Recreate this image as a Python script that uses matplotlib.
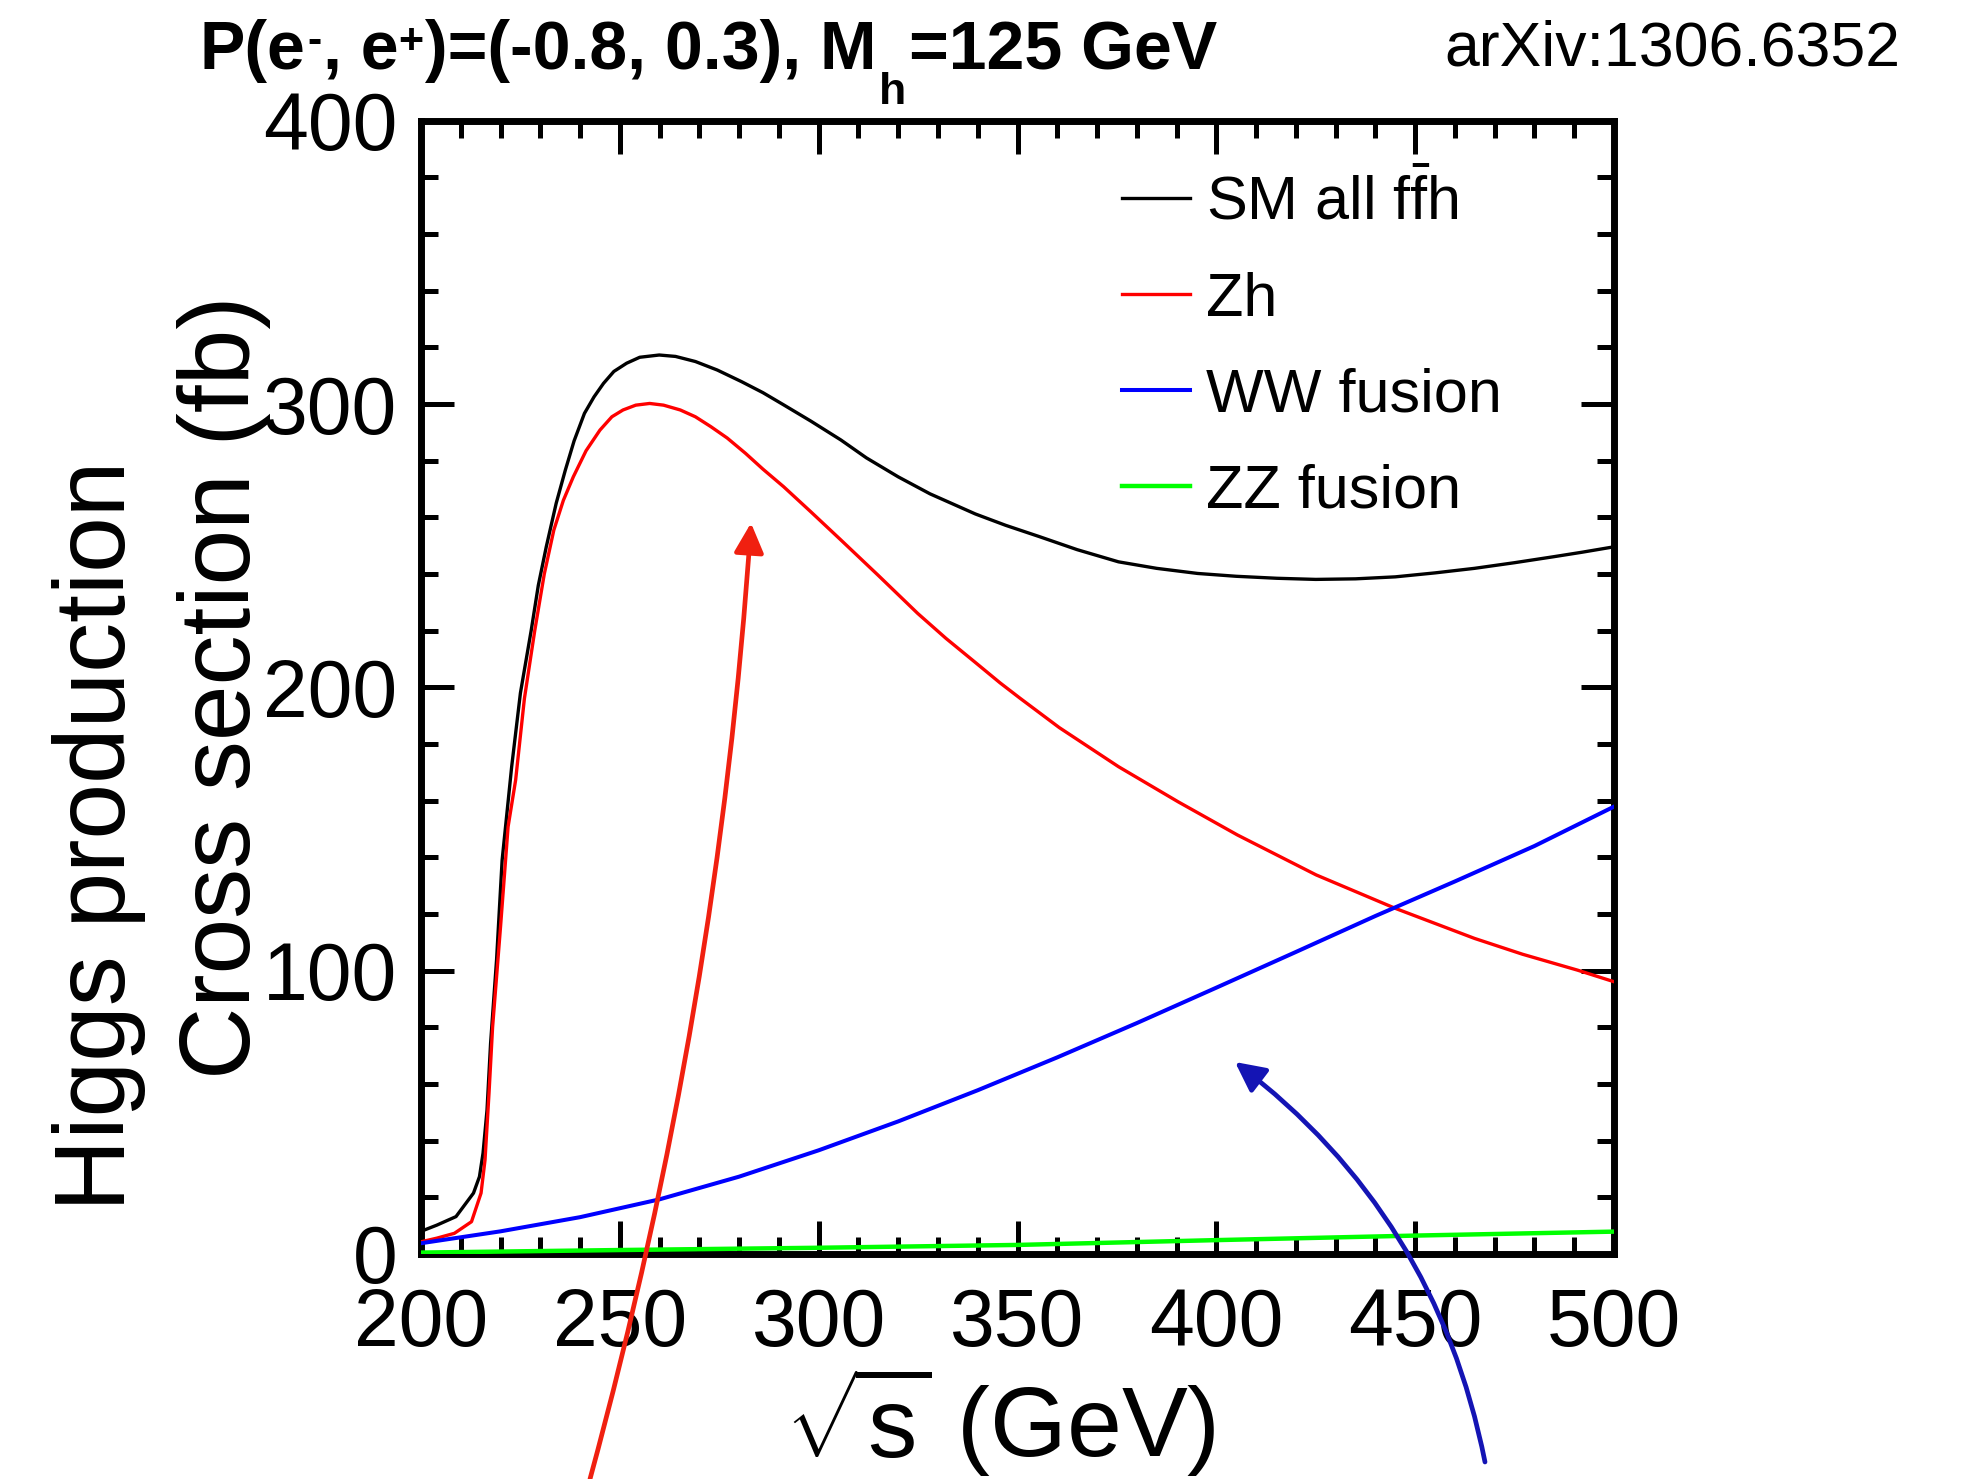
import matplotlib
matplotlib.use('Agg')
import matplotlib.pyplot as plt
from matplotlib.patches import FancyArrowPatch
from matplotlib.ticker import MultipleLocator

plt.rcParams['font.family'] = ['Liberation Sans', 'DejaVu Sans']
plt.rcParams['mathtext.fontset'] = 'custom'
plt.rcParams['mathtext.rm'] = 'Liberation Sans'
plt.rcParams['mathtext.it'] = 'Liberation Sans:italic'
plt.rcParams['mathtext.bf'] = 'Liberation Sans:bold'
plt.rcParams['mathtext.sf'] = 'Liberation Sans'

# ---------------- data ----------------
sm_E = [200, 204, 208.8, 213.2, 214.7, 215.6, 216.6, 217.5, 219, 220.4, 222.8, 225,
        227.7, 229.5, 231.5, 234, 236.3, 238.5, 241.1, 243.5, 245.9, 248.5, 251.7, 255,
        259.9, 264, 269, 274.5, 280.6, 286, 291.2, 298, 305.6, 312, 320, 328, 339.4, 347,
        355.5, 365, 375.4, 385, 395.3, 405, 415.2, 425, 435, 445, 455, 464.9, 475, 484.8, 492, 500]
sm_xs = [8, 10.2, 13.2, 21.5, 27.3, 35.6, 50.8, 74.4, 103.8, 139, 172, 198,
         220, 236, 249.6, 265, 276.7, 287, 296.7, 302.5, 307.3, 311.5, 314.4, 316.5,
         317.3, 316.8, 315, 312, 307.9, 304, 299.7, 294, 287.3, 281, 274.3, 268.3, 261.2, 257.2,
         253.2, 248.6, 244.3, 242, 240.2, 239.2, 238.5, 238.1, 238.3, 239, 240.4, 242, 244, 246.1, 247.7, 249.6]

zh_E = [200, 204, 208.4, 212.7, 215.1, 216.1, 217.1, 218, 220, 221.9, 223.8, 226, 228.6,
        231, 233.4, 235.8, 238.3, 241.5, 245, 248, 250.8, 254, 257.5, 261, 265.2, 269,
        272.9, 277, 281.6, 286, 291.2, 298, 305.6, 315, 324.9, 332, 339.3, 345.6, 350.6, 360.5,
        375.4, 390.4, 405.3, 425.1, 445, 464.9, 477, 490.8, 500]
zh_xs = [4.3, 5.6, 7.3, 11.4, 21.5, 33.2, 56.7, 80, 115.5, 150.8, 167.3, 196, 220,
         240, 255.5, 266, 274.3, 283.5, 290.8, 295.5, 297.9, 299.6, 300.2, 299.6, 297.9, 295.5,
         292, 288, 282.6, 277, 270.8, 262, 252, 239.5, 226.1, 217.3, 208.9, 201.6, 196.2, 185.8,
         172, 159.6, 147.9, 133.8, 122, 111.4, 105.8, 100.2, 96.1]

ww_E = [200, 220, 240, 260, 280, 300, 320, 340, 360, 380, 400, 420, 440, 460, 480, 500]
ww_xs = [3.8, 8.0, 13.0, 19.3, 27.3, 36.6, 46.8, 57.8, 69.4, 81.5, 94.0, 106.6, 119.3, 131.5, 144.0, 157.9]

zz_E = [200, 250, 300, 350, 400, 450, 500]
zz_xs = [0.5, 1.4, 2.2, 3.2, 4.9, 6.5, 7.9]

series_labels = [r'SM all f$\bar{\mathrm{f}}$h', 'Zh', 'WW fusion', 'ZZ fusion']
series_colors = ['#000000', '#ff0000', '#0000ff', '#00ff00']

x_ticks = [200, 250, 300, 350, 400, 450, 500]
y_ticks = [0, 100, 200, 300, 400]

# annotation arrows (figure pixel positions: tail, head)
red_arrow = ((590, 1479), (751, 523))
blue_arrow = ((1485, 1462), (1235, 1062))

# ---------------- figure ----------------
W, H = 1966, 1479
fig = plt.figure(figsize=(W / 100, H / 100), dpi=100)
ax = fig.add_axes([421 / W, 1 - 1254 / H, (1614 - 421) / W, (1254 - 120.7) / H])

lws = [2.4, 2.4, 2.9, 3.2]
handles = []
for (E, s), c, lab, lw in zip([(sm_E, sm_xs), (zh_E, zh_xs), (ww_E, ww_xs), (zz_E, zz_xs)],
                              series_colors, series_labels, lws):
    h, = ax.plot(E, s, color=c, lw=lw, label=lab, zorder=3, solid_joinstyle='round')
    handles.append(h)

ax.set_xlim(200, 500)
ax.set_ylim(0, 400)
ax.set_xticks(x_ticks)
ax.set_yticks(y_ticks)
ax.xaxis.set_minor_locator(MultipleLocator(10))
ax.yaxis.set_minor_locator(MultipleLocator(20))
ax.tick_params(which='both', direction='in', top=True, right=True, width=3.6, color='black')
ax.tick_params(which='major', length=24)
ax.tick_params(which='minor', length=12)
ax.tick_params(axis='x', which='major', labelsize=58, pad=24)
ax.tick_params(axis='y', which='major', labelsize=58, pad=17)
for sp in ax.spines.values():
    sp.set_linewidth(5)

leg = ax.legend(handles, series_labels, loc='upper left', bbox_to_anchor=(0.5876, 0.954),
                frameon=False, fontsize=44, handlelength=1.12, handletextpad=0.25,
                labelspacing=0.64, borderpad=0, borderaxespad=0)

# axis labels
fig.text(1000 / W, 1 - 1457 / H, r'$\sqrt{\mathrm{s}}$ (GeV)', fontsize=71,
         ha='center', va='baseline')
fig.text(125 / W, 1 - 836 / H, 'Higgs production', fontsize=72, rotation=90,
         rotation_mode='anchor', ha='center', va='baseline')
fig.text(250 / W, 1 - 687 / H, 'Cross section (fb)', fontsize=72, rotation=90,
         rotation_mode='anchor', ha='center', va='baseline')

# header: P(e-, e+)=(-0.8, 0.3), M_h=125 GeV  (pieces chained one after another)
main = dict(fontsize=49, fontweight='bold')
small = dict(fontsize=31, fontweight='bold')
ann = dict(textcoords='offset points', annotation_clip=False, ha='left')
t1 = fig.text(200 / W, 1 - 69 / H, 'P(e', ha='left', va='baseline', **main)
s1 = ax.annotate('-', xy=(1, 1), xycoords=t1, xytext=(1, -2), va='top', **small, **ann)
t2 = ax.annotate(', e', xy=(1, 0), xycoords=(s1, t1), xytext=(1, 0), va='bottom', **main, **ann)
s2 = ax.annotate('+', xy=(1, 1), xycoords=t2, xytext=(0, -2), va='top', **small, **ann)
t3 = ax.annotate(')=(-0.8, 0.3), M', xy=(1, 0), xycoords=(s2, t1), xytext=(1, 0),
                 va='bottom', **main, **ann)
s3 = ax.annotate('h', xy=(1, 0), xycoords=t3, xytext=(2, -15), va='baseline',
                 fontsize=32, fontweight='bold', **ann)
t4 = ax.annotate('=125 GeV', xy=(1, 0), xycoords=(s3, t1), xytext=(2, 0), va='bottom',
                 **main, **ann)
fig.text(1900 / W, 1 - 66 / H, 'arXiv:1306.6352', fontsize=45, ha='right', va='baseline')

# arrows
for (a, b), col, rad in [(red_arrow, '#f02010', 0.05), (blue_arrow, '#1414b4', 0.19)]:
    arr = FancyArrowPatch((a[0] / W, 1 - a[1] / H), (b[0] / W, 1 - b[1] / H),
                          transform=fig.transFigure, connectionstyle=f'arc3,rad={rad}',
                          arrowstyle='-|>,head_length=0.4,head_width=0.2',
                          mutation_scale=45, lw=3.4, color=col, shrinkA=0, shrinkB=0,
                          zorder=10)
    fig.add_artist(arr)

fig.savefig('out.png', dpi=100)
